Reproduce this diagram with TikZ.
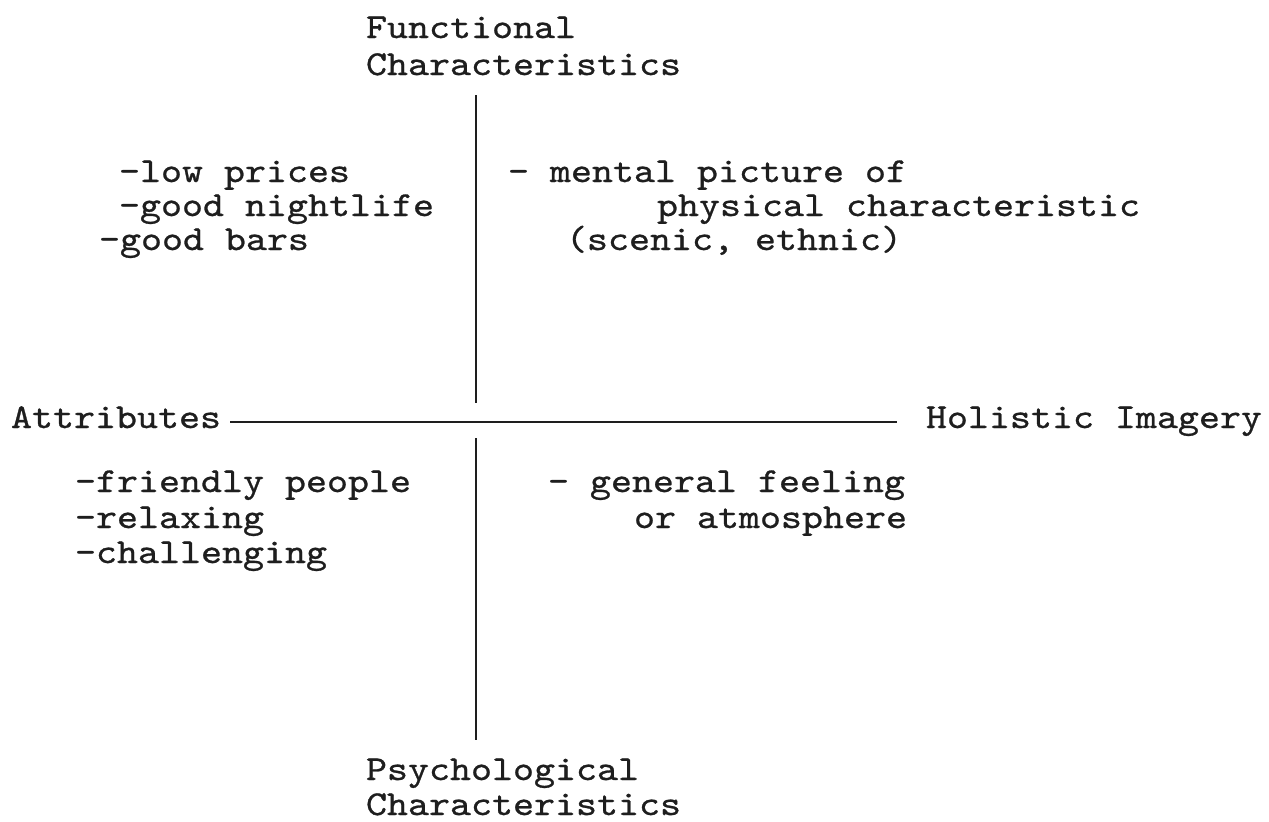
\documentclass[tikz,border=0pt]{standalone}
\usepackage{fontspec}
\setmonofont[FakeStretch=1.143,FakeBold=0.8]{lmmono10-regular.otf}
\definecolor{ink}{HTML}{1E1E1E}
\tikzset{
  lbl/.style={anchor=base west, inner sep=0pt, outer sep=0pt, text=ink,
    font=\ttfamily\fontsize{17.5pt}{17.5pt}\selectfont},
  axis/.style={draw=ink, line width=1pt}
}
\begin{document}
\begin{tikzpicture}[x=0.5pt,y=-0.5pt]
\useasboundingbox (0,0) rectangle (1269,821);
% top label
\node[lbl] (fun1) at (366,38) {Functional};
\node[lbl] (fun2) at (366,75) {Characteristics};
% top-left quadrant
\node[lbl] (tl1) at (119,182) {-low prices};
\node[lbl] (tl2) at (119,216) {-good nightlife};
\node[lbl] (tl3) at (99,250) {-good bars};
% top-right quadrant
\node[lbl] (tr1) at (508,182) {- mental picture of};
\node[lbl] (tr2) at (657,216) {physical characteristic};
\node[lbl] (tr3) at (566,250) {(scenic, ethnic)};
% horizontal axis labels
\node[lbl] (attr) at (11,428) {Attributes};
\node[lbl, anchor=base east] (hol) at (1262,428) {Holistic Imagery};
% bottom-left quadrant
\node[lbl] (bl1) at (75,492) {-friendly people};
\node[lbl] (bl2) at (75,528) {-relaxing};
\node[lbl] (bl3) at (75,563) {-challenging};
% bottom-right quadrant
\node[lbl] (br1) at (548,492) {- general feeling};
\node[lbl] (br2) at (634,528) {or atmosphere};
% bottom label
\node[lbl] (psy1) at (366,780) {Psychological};
\node[lbl] (psy2) at (366,815) {Characteristics};
% axes
\coordinate (vt1) at (476,95);
\coordinate (vt2) at (476,403);
\coordinate (vb1) at (476,438);
\coordinate (vb2) at (476,740);
\coordinate (hl) at (230,422);
\coordinate (hr) at (897,422);
\draw[axis] (vt1) -- (vt2);
\draw[axis] (vb1) -- (vb2);
\draw[axis] (hl) -- (hr);
\end{tikzpicture}
\end{document}
